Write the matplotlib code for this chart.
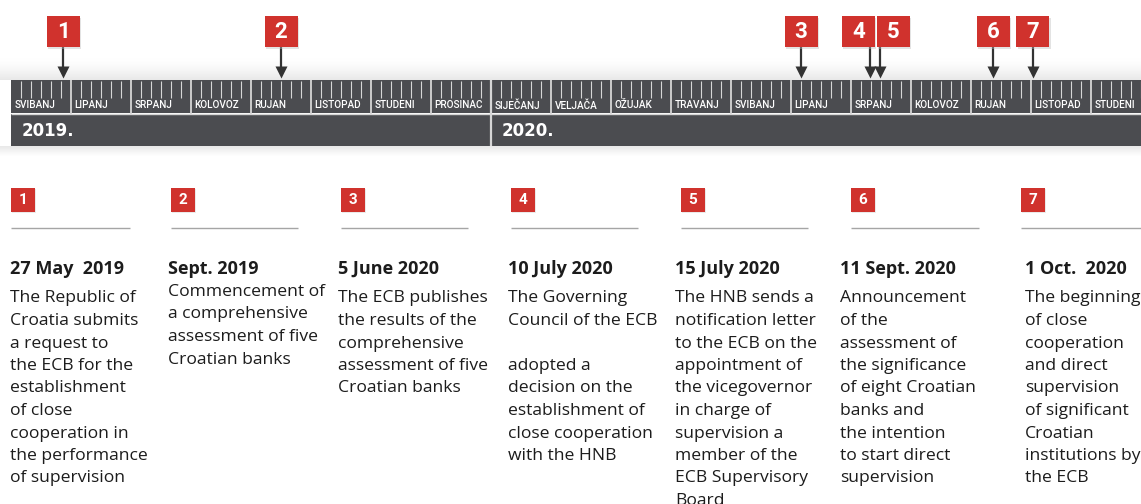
import calendar
import numpy as np
import matplotlib
matplotlib.use('Agg')
import matplotlib.pyplot as plt
from matplotlib.patches import Rectangle
from matplotlib.colors import LinearSegmentedColormap

# --- data ---
months = ["SVIBANJ", "LIPANJ", "SRPANJ", "KOLOVOZ", "RUJAN", "LISTOPAD", "STUDENI",
          "PROSINAC", "SIJEČANJ", "VELJAČA", "OŽUJAK", "TRAVANJ", "SVIBANJ", "LIPANJ",
          "SRPANJ", "KOLOVOZ", "RUJAN", "LISTOPAD", "STUDENI"]
years = ["2019.", "2020."]
year_start = [0, 8]          # month index where each year begins

event_nums = ["1", "2", "3", "4", "5", "6", "7"]
event_dates = [(2019, 5, 27), (2019, 9, 15), (2020, 6, 5), (2020, 7, 10),
               (2020, 7, 15), (2020, 9, 11), (2020, 10, 1)]
event_titles = ["27 May  2019", "Sept. 2019", "5 June 2020", "10 July 2020",
                "15 July 2020", "11 Sept. 2020", "1 Oct.  2020"]
event_texts = [
    ["The Republic of", "Croatia submits", "a request to", "the ECB for the",
     "establishment", "of close", "cooperation in", "the performance", "of supervision"],
    ["Commencement of", "a comprehensive", "assessment of five", "Croatian banks"],
    ["The ECB publishes", "the results of the", "comprehensive", "assessment of five",
     "Croatian banks"],
    ["The Governing", "Council of the ECB", "", "adopted a", "decision on the",
     "establishment of", "close cooperation", "with the HNB"],
    ["The HNB sends a", "notification letter", "to the ECB on the", "appointment of",
     "the vicegovernor", "in charge of", "supervision a", "member of the",
     "ECB Supervisory", "Board"],
    ["Announcement", "of the", "assessment of", "the significance", "of eight Croatian",
     "banks and", "the intention", "to start direct", "supervision"],
    ["The beginning", "of close", "cooperation", "and direct", "supervision",
     "of significant", "Croatian", "institutions by", "the ECB"],
]

# --- layout (pixels) ---
W, H = 1141, 504
PX = 60.0     # pixels per month on the timeline
X0 = 11       # pixel where the first month starts
box_shift = [0, 0, 0, -12, 13, 0, 0]
col_box_x = [11, 171, 341, 511, 681, 851, 1021]
col_line_end = [130, 298, 468, 638, 808, 979, 1141]
col_text_x = [10, 168, 338, 508, 675, 840, 1025]
col_text_y = [298.5, 292, 298.5, 298.5, 298.5, 298.5, 298.5]

DARK = "#4b4c50"
LIGHT = "#d6d6d6"
RED = "#d0322d"
INK = "#1c1c1c"
NARROW = ["Roboto", "DejaVu Sans"]
BODY = ["Open Sans", "DejaVu Sans"]


def month_pos(y, m, d):
    return (y - 2019) * 12 + (m - 5) + d / calendar.monthrange(y, m)[1]


fig = plt.figure(figsize=(W / 100, H / 100), dpi=100, facecolor="white")
ax = fig.add_axes([0, 0, 1, 1])
ax.axis("off")
xl = (-X0 / PX, (W - X0) / PX)

# soft shadows around the bar
shade = LinearSegmentedColormap.from_list("shade", ["#ffffff", "#e8e8e8"])
ax.imshow(np.linspace(0, 1, 64).reshape(-1, 1) ** 1.5, extent=(xl[0], xl[1], 80, 58),
          cmap=shade, aspect="auto", origin="upper", zorder=0)
ax.imshow(np.linspace(1, 0, 64).reshape(-1, 1), extent=(xl[0], xl[1], 156, 146),
          cmap=shade, aspect="auto", origin="upper", zorder=0)

n = len(months)
idx = np.arange(n)
ax.bar(idx, 33, bottom=80, width=1, align="edge", color=DARK, linewidth=0, zorder=1)
ybounds = year_start + [n]
ax.bar(year_start, 32, bottom=114, width=np.diff(ybounds), align="edge",
       color=DARK, linewidth=0, zorder=1)
ax.hlines(113.5, 0, n, color=LIGHT, lw=1.0, zorder=2)
ax.vlines(idx[1:], 80, 113.5, color=LIGHT, lw=1.3, zorder=2)
ax.vlines(year_start[1:], 80, 146, color=LIGHT, lw=1.6, zorder=2)
ticks = [i + k / 6 for i in idx for k in range(1, 6)]
ax.vlines(ticks, 80.5, 97.5, color=LIGHT, lw=0.8, zorder=2)

for i, m in enumerate(months):
    ax.text(i + 3.5 / PX, 105.3, m, color="white", fontsize=7.2, family=NARROW,
            weight="medium", ha="left", va="center", zorder=3)
for ys, y in zip(year_start, years):
    ax.text(ys + 10.5 / PX, 130.5, y, color="white", fontsize=12, weight="bold",
            family=["DejaVu Sans"], ha="left", va="center", zorder=3)

xs = [month_pos(*d) for d in event_dates]
ax.vlines(xs, 47, 67, color="#333333", lw=1.6, zorder=3)
ax.plot(xs, [72] * len(xs), "v", ms=9, color="#333333", mec="none", zorder=3)
for x, s, num in zip(xs, box_shift, event_nums):
    cx = x + s / PX
    ax.add_patch(Rectangle((cx - 15 / PX, 17.5), 33 / PX, 31, color="#bbbbbb",
                           alpha=0.4, lw=0, zorder=3))
    ax.add_patch(Rectangle((cx - 16.5 / PX, 16), 33 / PX, 31, color=RED, lw=0, zorder=4))
    ax.text(cx, 32, num, color="white", fontsize=16, weight="bold", family=NARROW,
            ha="center", va="center", zorder=5)

ax.set_xlim(*xl)
ax.set_ylim(H, 0)

# --- lower columns (pixel layout) ---
lay = fig.add_axes([0, 0, 1, 1])
lay.axis("off")
lay.patch.set_alpha(0)
for i, num in enumerate(event_nums):
    bx = col_box_x[i]
    lay.add_patch(Rectangle((bx + 1, 188.5), 24, 24, color="#cccccc", alpha=0.4, lw=0))
    lay.add_patch(Rectangle((bx, 187.5), 24, 24, color=RED, lw=0))
    lay.text(bx + 12, 199.5, num, color="white", fontsize=11, weight="bold",
             family=NARROW, ha="center", va="center")
    lay.hlines(227.5, bx, col_line_end[i], color="#a5a5a5", lw=1.0)
    lay.text(col_text_x[i], 268.5, event_titles[i], color=INK, fontsize=13,
             weight="bold", family=BODY, ha="left", va="center")
    for j, line in enumerate(event_texts[i]):
        lay.text(col_text_x[i], col_text_y[i] + j * 22.5, line, color=INK,
                 fontsize=12.6, family=BODY, ha="left", va="center")
lay.set_xlim(0, W)
lay.set_ylim(H, 0)

fig.savefig("out.png", dpi=100, facecolor="white")
